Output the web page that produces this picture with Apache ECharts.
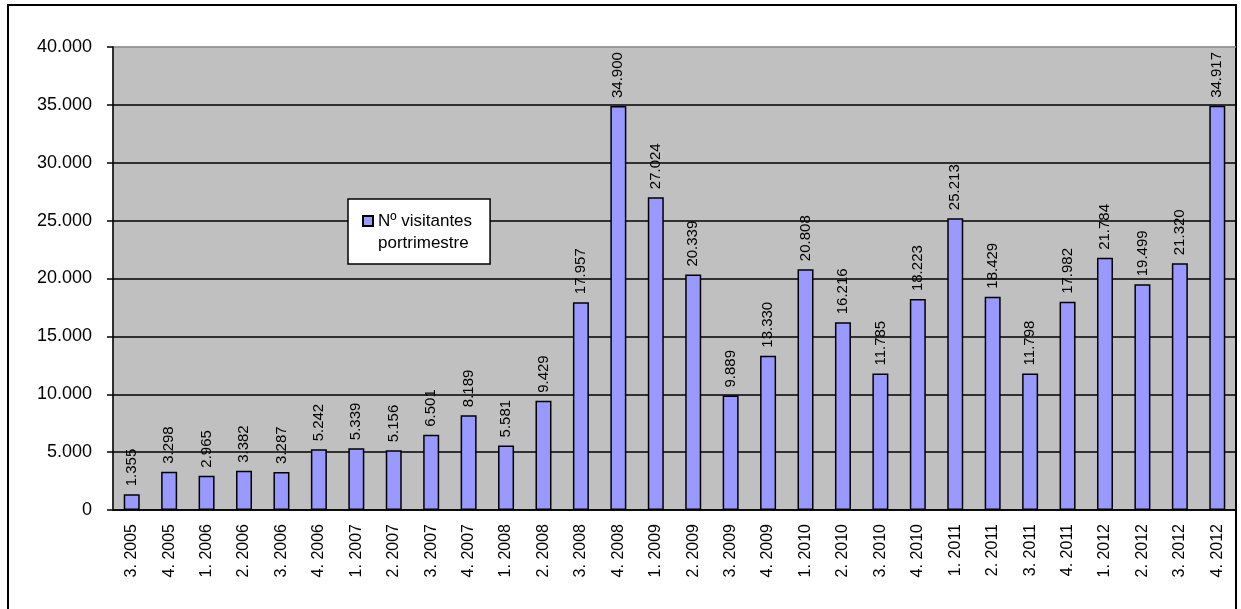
<!DOCTYPE html>
<html>
<head>
<meta charset="utf-8">
<script src="https://cdn.jsdelivr.net/npm/echarts@6/dist/echarts.min.js"></script>
<style>
  html, body { margin: 0; padding: 0; background: #fff; }
  #main { width: 1241px; height: 609px; }
</style>
</head>
<body>
<div id="main"></div>
<script>
// trimestres (as printed on the axis)
const categories = [
  '3. 2005', '4. 2005', '1. 2006', '2. 2006', '3. 2006', '4. 2006',
  '1. 2007', '2. 2007', '3. 2007', '4. 2007', '1. 2008', '2. 2008',
  '3. 2008', '4. 2008', '1. 2009', '2. 2009', '3. 2009', '4. 2009',
  '1. 2010', '2. 2010', '3. 2010', '4. 2010', '1. 2011', '2. 2011',
  '3. 2011', '4. 2011', '1. 2012', '2. 2012', '3. 2012', '4. 2012'
];
const visitantes = [
  1355, 3298, 2965, 3382, 3287, 5242,
  5339, 5156, 6501, 8189, 5581, 9429,
  17957, 34900, 27024, 20339, 9889, 13330,
  20808, 16216, 11785, 18223, 25213, 18429,
  11798, 17982, 21784, 19499, 21320, 34917
];
const seriesName = 'Nº visitantes portrimestre';
const yTicks = { min: 0, max: 40000, interval: 5000 };

// 12345 -> "12.345"
const fmt = (v) => String(Math.round(v)).replace(/\B(?=(\d{3})+(?!\d))/g, '.');

// black grid lines, except the top one which blends with the plot border
const gridColors = ['#000', '#000', '#000', '#000', '#000', '#000', '#000', '#000', '#909090'];

const chart = echarts.init(document.getElementById('main'));
chart.setOption({
  animation: false,
  textStyle: { fontFamily: 'Liberation Sans, Arial, sans-serif' },
  graphic: [{
    type: 'rect',
    shape: { x: 8, y: 5, width: 1228, height: 640 },
    style: { fill: 'none', stroke: '#000', lineWidth: 2 },
    z: 0
  }],
  grid: {
    left: 113, right: 5, top: 47, bottom: 99,
    show: true, backgroundColor: '#c0c0c0', borderColor: '#909090', borderWidth: 1
  },
  legend: {
    data: [seriesName],
    left: 348, top: 199,
    orient: 'vertical',
    backgroundColor: '#fff',
    borderColor: '#000',
    borderWidth: 1.5,
    padding: [11, 18, 10, 14],
    itemWidth: 10, itemHeight: 32, itemGap: 0,
    // square sits at the level of the first text line
    icon: 'path://M0,0L10,0L10,10L0,10Z M0,32L0.01,32',
    formatter: () => 'Nº visitantes\nportrimestre',
    textStyle: { fontSize: 17, color: '#000', lineHeight: 22, fontFamily: 'Liberation Sans, Arial, sans-serif' }
  },
  xAxis: {
    type: 'category',
    data: categories,
    axisLine: { lineStyle: { color: '#000', width: 1.5 } },
    axisTick: { alignWithLabel: false, length: 6, lineStyle: { color: '#000', width: 1.5 } },
    axisLabel: { rotate: 90, color: '#000', fontSize: 16, margin: 14 }
  },
  yAxis: {
    type: 'value',
    min: yTicks.min, max: yTicks.max, interval: yTicks.interval,
    axisLine: { show: true, lineStyle: { color: '#000', width: 1.5 } },
    axisTick: { show: true, length: 6, lineStyle: { color: '#000', width: 1.5 } },
    axisLabel: { color: '#000', fontSize: 18, margin: 21, formatter: fmt },
    splitLine: { lineStyle: { color: gridColors, width: 1.5 } }
  },
  series: [{
    name: seriesName,
    type: 'bar',
    data: visitantes,
    barWidth: 16,
    itemStyle: { color: '#9999ff', borderColor: '#000', borderWidth: 1.5 },
    label: {
      show: true,
      position: 'top',
      rotate: 90,
      align: 'left',
      verticalAlign: 'middle',
      distance: 8,
      color: '#000',
      fontSize: 15,
      formatter: (p) => fmt(p.value)
    }
  }]
});
</script>
</body>
</html>
